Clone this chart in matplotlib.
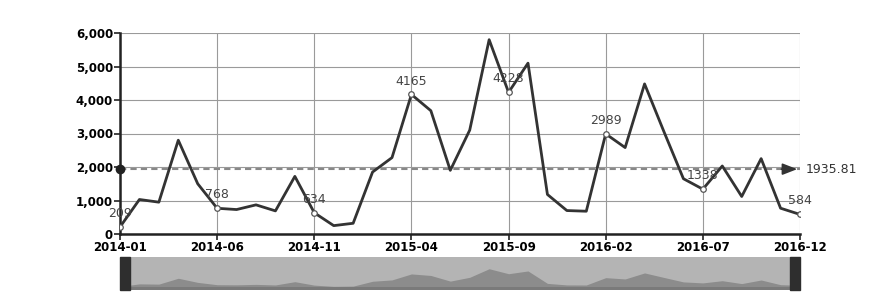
#!/usr/bin/env python3
# -*- coding: utf-8 -*-
"""月次件数の推移 (2014-01 ~ 2016-12) と平均線、下部にデータズームスライダー"""

import numpy as np
import pandas as pd
import matplotlib
matplotlib.use('Agg')
import matplotlib.pyplot as plt
from matplotlib.patches import Rectangle

plt.rcParams['font.family'] = 'DejaVu Sans'

months = [str(p) for p in pd.period_range('2014-01', '2016-12', freq='M')]
values = [209, 1030, 950, 2800, 1500, 768, 730, 870, 690, 1720, 634, 250,
          320, 1850, 2280, 4165, 3680, 1900, 3100, 5800, 4228, 5100, 1180, 700,
          680, 2989, 2580, 4480, 3050, 1650, 1338, 2030, 1120, 2250, 770, 584]
labeled_months = ['2014-01', '2014-06', '2014-11', '2015-04', '2015-09',
                  '2016-02', '2016-07', '2016-12']
mean_value = 1935.81
y_ticks = [0, 1000, 2000, 3000, 4000, 5000, 6000]

LINE = '#333333'
GRID = '#9a9a9a'

fig = plt.figure(figsize=(8.83, 3.01), dpi=100)
W, H = 883, 301
ax = fig.add_axes([120 / W, 1 - 234 / H, 680 / W, 201 / H])

x = np.arange(len(months))
ax.plot(x, values, color=LINE, linewidth=2.0, zorder=3)

# ラベル付きの点
for m in labeled_months:
    i = months.index(m)
    ax.plot(i, values[i], 'o', markersize=4, markerfacecolor='white',
            markeredgecolor='#555555', markeredgewidth=0.9, zorder=4)
    ax.annotate(str(values[i]), (i, values[i]), xytext=(0, 5),
                textcoords='offset points', ha='center', va='bottom',
                fontsize=9, color='#444444', zorder=5)

# 平均線
ax.plot([0, len(months) - 1], [mean_value, mean_value], linestyle=(0, (3, 2)),
        color='#888888', linewidth=1.5, zorder=2)
ax.plot(0, mean_value, 'o', color='#222222', markersize=6, zorder=5, clip_on=False)
ax.annotate('', xy=(len(months) - 1, mean_value), xytext=(len(months) - 2.1, mean_value),
            arrowprops=dict(arrowstyle='-|>,head_length=0.9,head_width=0.35',
                            color='#333333', lw=1.2), zorder=5, annotation_clip=False)
ax.text(len(months) - 1 + 0.3, mean_value, f'{mean_value:.2f}', va='center',
        ha='left', fontsize=9, color='#333333')

ax.set_xlim(0, len(months) - 1)
ax.set_ylim(0, 6000)
tick_idx = [months.index(m) for m in labeled_months]
ax.set_xticks(tick_idx)
ax.set_xticklabels(labeled_months, fontsize=8.5, fontweight='bold')
ax.set_yticks(y_ticks)
ax.set_yticklabels([f'{v:,}' for v in y_ticks], fontsize=8.5, fontweight='bold')
ax.tick_params(axis='both', length=4, width=1.2, color='#222222', pad=1)
ax.grid(True, color=GRID, linewidth=0.8)
ax.set_axisbelow(True)

for side in ['left', 'bottom']:
    ax.spines[side].set_linewidth(1.8)
    ax.spines[side].set_color('#222222')
for side in ['top', 'right']:
    ax.spines[side].set_visible(False)

# データズームスライダー
sx = fig.add_axes([120 / W, 1 - 290 / H, 680 / W, 33 / H])
sx.set_facecolor('#b4b4b4')
sx.fill_between(x, 0, values, color='#8c8c8c', linewidth=0)
sx.axhspan(-900, 0, color='#7a7a7a', linewidth=0)
sx.set_xlim(0, len(months) - 1)
sx.set_ylim(-900, 9500)
sx.set_xticks([])
sx.set_yticks([])
for s in sx.spines.values():
    s.set_visible(False)
for x0 in (0, 1 - 10 / 680):
    sx.add_patch(Rectangle((x0, 0), 10 / 680, 1, transform=sx.transAxes,
                           color='#2e2e2e', clip_on=False, zorder=5))

plt.savefig('out.png', dpi=100)
